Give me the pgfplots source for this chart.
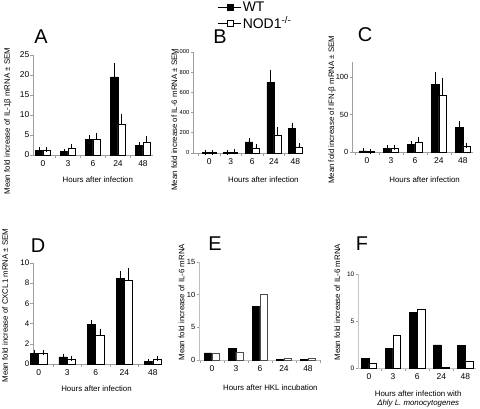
\documentclass[border=0pt]{standalone}
\usepackage{fontspec}
\setmainfont{Liberation Sans}
\usepackage{pgfplots}
\usepackage{pgfplotstable}
\pgfplotsset{compat=1.18}
\pgfplotsset{
 panel/.style={
  scale only axis, anchor=south west,
  axis lines*=left, axis line style={gray!75, line width=0.6pt},
  ybar=0pt, ymin=0,
  xtick={0,1,2,3,4}, xticklabels={0,3,6,24,48},
  major x tick style={draw=none},
  minor xtick={-0.5,0.5,1.5,2.5,3.5,4.5},
  minor x tick style={gray!75, line width=0.6pt},
  major y tick style={gray!75, line width=0.6pt},
  tick align=outside, major tick length=2.5bp, minor tick length=3bp,
  xticklabel style={font=\fontsize{8.5}{9}\selectfont},
  yticklabel style={inner sep=1bp},
  label style={font=\fontsize{7.9}{9}\selectfont},
  /pgf/number format/assume math mode=true, /pgf/number format/1000 sep={},
  clip=false,
 },
 yfs/.style={yticklabel style={font=\fontsize{#1}{#1}\selectfont}},
 wt/.style={fill=black, draw=black, line width=0.6pt},
 ko/.style={fill=white, draw=black, line width=0.6pt},
 eb/.style={error bars/.cd, y dir=plus, y explicit,
   error bar style={black, line width=0.6pt},
   error mark options={black, mark size=2.5bp, line width=0.6pt}},
}
\tikzset{letter/.style={font=\fontsize{20}{20}\selectfont}}
\pgfplotstableread{
x wt ewt ko eko
0 1.2 0.2 1.1 0.3
1 0.8 0.1 1.7 0.5
2 3.8 0.5 3.8 1.0
3 19.5 2.8 7.6 1.9
4 2.4 0.3 3.2 0.9
}\dataA
\pgfplotstableread{
x wt ewt ko eko
0 5 2 4 2
1 7 2 8 2
2 110 12 50 15
3 700 95 180 48
4 245 32 60 12
}\dataB
\pgfplotstableread{
x wt ewt ko eko
0 1.5 0.3 0.8 0.3
1 5 0.7 5.5 1
2 10 1.3 13 3.5
3 90 13 75 20
4 33 5.5 8 1
}\dataC
\pgfplotstableread{
x wt ewt ko eko
0 1.05 0.08 1.05 0.08
1 0.7 0.05 0.5 0.02
2 3.93 0.15 2.8 0.45
3 8.5 0.45 8.25 1.05
4 0.25 0.02 0.45 0.05
}\dataD
\pgfplotstableread{
x wt ko
0 1.1 1.1
1 1.75 1.2
2 8.2 10.1
3 0.15 0.25
4 0.12 0.25
}\dataE
\pgfplotstableread{
x wt ko
0 1.0 0.5
1 2.05 3.45
2 5.95 6.2
3 2.45 0.1
4 2.4 0.75
}\dataF
\begin{document}
\begin{tikzpicture}
\useasboundingbox (0,0) rectangle (480bp,409bp);
% A
\begin{axis}[panel, yfs=8.5, at={(33bp,254bp)}, width=120bp, height=100bp,
  xmin=-0.4, xmax=4.4, ymax=25, ytick={0,5,...,25}, bar width=7.5bp,
  ylabel={Mean fold increase of IL-1β mRNA ± SEM},
  ylabel style={at={(axis description cs:-0.21,0.34)}, anchor=center},
  xlabel={Hours after infection},
  xlabel style={at={(axis description cs:0.54,-0.25)}, anchor=center}]
\addplot[wt, eb] table[x=x, y=wt, y error=ewt] {\dataA};
\addplot[ko, eb] table[x=x, y=ko, y error=eko] {\dataA};
\end{axis}
% B
\begin{axis}[panel, yfs=5.8, at={(193bp,256bp)}, width=110bp, height=101bp,
  xmin=-0.75, xmax=4.35, ymax=1000, ytick={0,200,...,1000}, bar width=7bp,
  ylabel={Mean fold increase of IL-6 mRNA ± SEM},
  ylabel style={at={(axis description cs:-0.17,0.33)}, anchor=center},
  xlabel={Hours after infection},
  xlabel style={at={(axis description cs:0.64,-0.26)}, anchor=center}]
\addplot[wt, eb] table[x=x, y=wt, y error=ewt] {\dataB};
\addplot[ko, eb] table[x=x, y=ko, y error=eko] {\dataB};
\end{axis}
% C
\begin{axis}[panel, yfs=7.5, at={(352bp,257bp)}, width=121bp, height=90bp,
  xmin=-0.625, xmax=4.42, ymax=120, ytick={0,50,100}, bar width=7.5bp,
  ylabel={Mean fold increase of IFN-β mRNA ± SEM},
  ylabel style={at={(axis description cs:-0.165,0.47)}, anchor=center},
  xlabel={Hours after infection},
  xlabel style={at={(axis description cs:0.6,-0.31)}, anchor=center}]
\addplot[wt, eb] table[x=x, y=wt, y error=ewt] {\dataC};
\addplot[ko, eb] table[x=x, y=ko, y error=eko] {\dataC};
\end{axis}
% D
\begin{axis}[panel, yfs=8, at={(33bp,45bp)}, width=127bp, height=101bp,
  xmin=-0.2, xmax=4.25, ymax=10, ytick={0,2,...,10}, bar width=8.3bp,
  ylabel={Mean fold increase of CXCL1 mRNA ± SEM},
  ylabel style={at={(axis description cs:-0.22,0.58)}, anchor=center},
  xlabel={Hours after infection},
  xlabel style={at={(axis description cs:0.5,-0.24)}, anchor=center}]
\addplot[wt, eb] table[x=x, y=wt, y error=ewt] {\dataD};
\addplot[ko, eb] table[x=x, y=ko, y error=eko] {\dataD};
\end{axis}
% E
\begin{axis}[panel, yfs=7.5, at={(199bp,49bp)}, width=121bp, height=98bp,
  xmin=-0.54, xmax=4.5, ymax=15, ytick={0,5,10,15}, bar width=7.5bp,
  ylabel={Mean fold increase of IL-6 mRNA},
  ylabel style={at={(axis description cs:-0.145,0.59)}, anchor=center},
  xlabel={Hours after HKL incubation},
  xlabel style={at={(axis description cs:0.59,-0.28)}, anchor=center},
  axis line style={gray!50, line width=0.6pt}]
\addplot[wt] table[x=x, y=wt] {\dataE};
\addplot[ko, draw=black!70] table[x=x, y=ko] {\dataE};
\end{axis}
% F
\begin{axis}[panel, yfs=6.5, at={(358bp,41bp)}, width=118bp, height=94bp,
  xmin=-0.45, xmax=4.44, ymax=10, ytick={0,5,10}, bar width=7.8bp,
  ylabel={Mean fold increase of IL-6 mRNA},
  ylabel style={at={(axis description cs:-0.175,0.70)}, anchor=center},
  xlabel={Hours after infection with\\\textit{Δhly L. monocytogenes}},
  xlabel style={at={(axis description cs:0.51,-0.33)}, anchor=center, align=center},
  axis line style={gray!45, line width=0.6pt}]
\addplot[wt] table[x=x, y=wt] {\dataF};
\addplot[ko] table[x=x, y=ko] {\dataF};
\end{axis}
% legend
\begin{axis}[at={(217bp,380bp)}, anchor=south west, scale only axis,
  width=20bp, height=29bp, hide axis, xmin=0, xmax=1, ymin=0, ymax=1,
  legend style={at={(0,1)}, anchor=north west, draw=none, fill=none,
    font=\fontsize{14}{14}\selectfont, inner sep=0pt, row sep=-1bp,
    cells={anchor=west}},
  legend image code/.code={
    \draw[#1, mark=none] (0bp,0bp) -- (23bp,0bp);
    \draw[#1] plot coordinates {(13bp,0bp)};}]
\addlegendimage{black, line width=0.6pt, mark=square*, mark size=3bp, mark options={fill=black}}
\addlegendentry{WT}
\addlegendimage{black, line width=0.6pt, mark=square*, mark size=3bp, mark options={fill=white}}
\addlegendentry{NOD1\textsuperscript{-/-}}
\end{axis}
\node[letter] at (41bp,372bp) {A};
\node[letter] at (220bp,372bp) {B};
\node[letter] at (365bp,374bp) {C};
\node[letter] at (38bp,163bp) {D};
\node[letter] at (215bp,165bp) {E};
\node[letter] at (362bp,165bp) {F};
\end{tikzpicture}
\end{document}
